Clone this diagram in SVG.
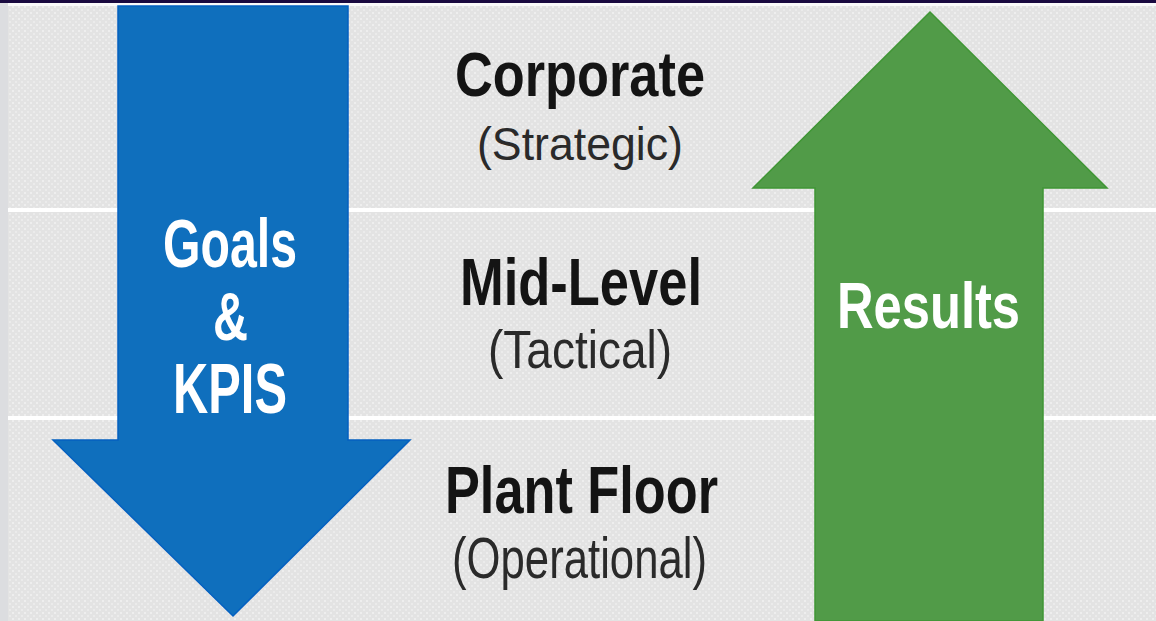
<svg xmlns="http://www.w3.org/2000/svg" width="1156" height="621" viewBox="0 0 1156 621">
  <style>
    .lvl { font-family: "Liberation Sans Narrow", "Liberation Sans", Arial, sans-serif; font-weight: bold; fill: #141414; text-anchor: middle; }
    .sub { font-family: "Liberation Sans Narrow", "Liberation Sans", Arial, sans-serif; font-weight: normal; fill: #2a2a2a; text-anchor: middle; }
    .arr { font-family: "Liberation Sans Narrow", "Liberation Sans", Arial, sans-serif; font-weight: bold; fill: #ffffff; text-anchor: middle; }
    .sep { fill: #ffffff; }
  </style>
  <defs>
    <pattern id="dots" width="6" height="6" patternUnits="userSpaceOnUse">
      <rect width="6" height="6" fill="#e3e3e3"/>
      <rect x="0" y="0" width="2" height="2" fill="#eeeeee"/>
      <rect x="3" y="3" width="2" height="2" fill="#ebebeb"/>
    </pattern>
  </defs>

  <g id="background">
    <rect x="0" y="0" width="1156" height="621" fill="url(#dots)"/>
    <rect x="0" y="0" width="8" height="621" fill="#dcdde0"/>
    <rect x="8" y="2" width="1148" height="4" fill="#fafafa"/>
    <rect x="0" y="0" width="1156" height="3" fill="#1a0a40"/>
    <rect class="sep" x="8" y="208" width="1148" height="4"/>
    <rect class="sep" x="8" y="416" width="1148" height="4"/>
  </g>

  <g id="goals-arrow">
    <polygon points="118,6 348,6 348,440 410,440 233,616 53,440 118,440" fill="#0f6fbd" stroke="#0460c0" stroke-width="1.5"/>
    <text class="arr" x="230" y="267" font-size="68" textLength="134" lengthAdjust="spacingAndGlyphs">Goals</text>
    <text class="arr" x="230.5" y="340" font-size="68" textLength="35" lengthAdjust="spacingAndGlyphs">&amp;</text>
    <text class="arr" x="230" y="413" font-size="70" textLength="114" lengthAdjust="spacingAndGlyphs">KPIS</text>
  </g>

  <g id="results-arrow">
    <polygon points="930,12 1107,188 1043,188 1043,621 815,621 815,188 753,188" fill="#519b48" stroke="#3f9634" stroke-width="1.5"/>
    <text class="arr" x="928.5" y="328" font-size="64" textLength="183" lengthAdjust="spacingAndGlyphs">Results</text>
  </g>

  <g id="corporate">
    <text class="lvl" x="580" y="96" font-size="63" textLength="250" lengthAdjust="spacingAndGlyphs">Corporate</text>
    <text class="sub" x="580" y="160" font-size="46" textLength="206" lengthAdjust="spacingAndGlyphs">(Strategic)</text>
  </g>

  <g id="mid-level">
    <text class="lvl" x="581" y="305" font-size="67" textLength="242" lengthAdjust="spacingAndGlyphs">Mid-Level</text>
    <text class="sub" x="580" y="368" font-size="53" textLength="184" lengthAdjust="spacingAndGlyphs">(Tactical)</text>
  </g>

  <g id="plant-floor">
    <text class="lvl" x="581.5" y="513" font-size="67" textLength="273" lengthAdjust="spacingAndGlyphs">Plant Floor</text>
    <text class="sub" x="579.5" y="578" font-size="58" textLength="255" lengthAdjust="spacingAndGlyphs">(Operational)</text>
  </g>

  <g id="connectors"></g>
</svg>
